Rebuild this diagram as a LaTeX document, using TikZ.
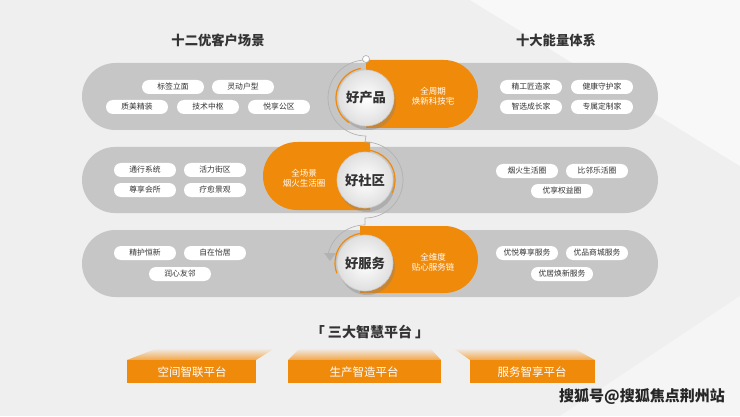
\documentclass[tikz,border=0pt]{standalone}
\usepackage{fontspec}
\setmainfont{Noto Sans CJK SC}
\usetikzlibrary{shadows,arrows.meta}
\definecolor{bg}{HTML}{EFEFEF}
\definecolor{band}{HTML}{C6C6C6}
\definecolor{org}{HTML}{EF8A0B}
\definecolor{ink}{HTML}{333333}
\tikzset{
  pill/.style={fill=white, rounded corners=7pt, minimum width=62pt, minimum height=14pt, inner sep=0pt, text=ink, font=\fontsize{7.8}{9}\selectfont},
  ttl/.style={text=ink, font=\bfseries\fontsize{13.3}{15}\selectfont},
  otxt/.style={text=white, align=center, font=\fontsize{8.5}{10.5}\selectfont},
  ball/.style={circle, minimum size=56pt, inner sep=0pt, inner color=white, outer color=gray!25, draw=gray!40, line width=0.6pt, text=ink, font=\bfseries\fontsize{13.3}{15}\selectfont, drop shadow={shadow xshift=2pt, shadow yshift=-4pt, opacity=0.35}},
  ring/.style={draw=gray!60, line width=0.7pt},
  oarc/.style={draw=org, line width=1.2pt},
  plat/.style={fill=org},
  ptxt/.style={text=white, font=\fontsize{11.5}{13}\selectfont}
}
\begin{document}
\begin{tikzpicture}[x=1pt,y=1pt]
\useasboundingbox (0,0) rectangle (740,416);
\fill[bg] (0,0) rectangle (740,416);
\fill[white,opacity=0.6] (470,416) -- (740,416) -- (740,250) -- cycle;
\fill[white,opacity=0.4] (560,0) -- (740,0) -- (740,120) -- cycle;
% titles
\node[ttl] (t1) at (218,376) {十二优客户场景};
\node[ttl] (t2) at (556,376) {十大能量体系};
% gray bands
\fill[band, rounded corners=33.5pt] (82,286) rectangle (658,353);
\fill[band, rounded corners=33pt] (82,203) rectangle (658,269);
\fill[band, rounded corners=33.5pt] (82,119) rectangle (658,186);
% orange capsules
\fill[org] (366,288) -- (444,288) arc (-90:90:34) -- (366,356) -- cycle;
\fill[org] (370,206) -- (297,206) arc (270:90:34) -- (370,274) -- cycle;
\fill[org] (360,123) -- (444.5,123) arc (-90:90:33.5) -- (360,190) -- cycle;
\node[otxt] (o1) at (433,320) {全周期\\焕新科技宅};
\node[otxt] (o2) at (304,238) {全场景\\烟火生活圈};
\node[otxt] (o3) at (433,154) {全维度\\贴心服务链};
% S connector
\coordinate (c1) at (366,318);
\coordinate (c2) at (365,236);
\coordinate (c3) at (365,153);
\draw[ring] (366,356) arc (90:270:38) .. controls (366,277) and (365,277) .. (365,274) arc (90:-90:38) .. controls (365,195) and (365,194) .. (365,191) arc (90:172:38);
\fill[gray!60] (324,163) -- (336,163) -- (330,155) -- cycle;
\node[circle, draw=gray!60, fill=white, line width=0.7pt, minimum size=7pt, inner sep=0pt] (s0) at (366,357) {};
% balls
\node[ball] (b1) at (c1) {好产品};
\node[ball] (b2) at (c2) {好社区};
\node[ball] (b3) at (c3) {好服务};
\draw[oarc] (c1) ++(100:30) arc (100:235:30);
\draw[oarc] (c2) ++(110:30) arc (110:-25:30);
\draw[oarc] (c3) ++(75:30) arc (75:200:30);
% pills row 1
\node[pill] (p11) at (173,329) {标签立面};
\node[pill] (p12) at (243,329) {灵动户型};
\node[pill] (p13) at (137,309) {质美精装};
\node[pill] (p14) at (208,309) {技术中枢};
\node[pill] (p15) at (279,309) {悦享公区};
\node[pill] (q11) at (531,329) {精工匠造家};
\node[pill] (q12) at (602,329) {健康守护家};
\node[pill] (q13) at (531,309) {智选成长家};
\node[pill] (q14) at (602,309) {专属定制家};
% pills row 2
\node[pill] (p21) at (145,246) {通行系统};
\node[pill] (p22) at (215,246) {活力街区};
\node[pill] (p23) at (145,226) {尊享会所};
\node[pill] (p24) at (215,226) {疗愈景观};
\node[pill] (q21) at (527,245) {烟火生活圈};
\node[pill] (q22) at (597,245) {比邻乐活圈};
\node[pill] (q23) at (562,225) {优享权益圈};
% pills row 3
\node[pill] (p31) at (145,163) {精护恒新};
\node[pill] (p32) at (215,163) {自在怡居};
\node[pill] (p33) at (180,142) {润心友邻};
\node[pill] (q31) at (527,163) {优悦尊享服务};
\node[pill] (q32) at (597,163) {优品商城服务};
\node[pill] (q33) at (562,142) {优居焕新服务};
% platforms
\node[text=ink, font=\bfseries\fontsize{14}{16}\selectfont] (t3) at (370,84) {「 三大智慧平台 」};
\shade[top color=bg, bottom color=org!75] (127,56) -- (158,68) -- (275,68) -- (256,56) -- cycle;
\shade[top color=bg, bottom color=org!75] (288,56) -- (300,68) -- (430,68) -- (441,56) -- cycle;
\shade[top color=bg, bottom color=org!75] (470,56) -- (453,68) -- (573,68) -- (595,56) -- cycle;
\fill[plat] (127,33) rectangle (256,56);
\fill[plat] (288,33) rectangle (441,56);
\fill[plat] (470,33) rectangle (595,56);
\node[ptxt] (k1) at (192,44) {空间智联平台};
\node[ptxt] (k2) at (364,44) {生产智造平台};
\node[ptxt] (k3) at (532,44) {服务智享平台};
% watermark
\node[font=\bfseries\fontsize{15}{17}\selectfont, text=black!85, draw=none] (wm) at (642,19) {搜狐号@搜狐焦点荆州站};
\end{tikzpicture}
\end{document}
